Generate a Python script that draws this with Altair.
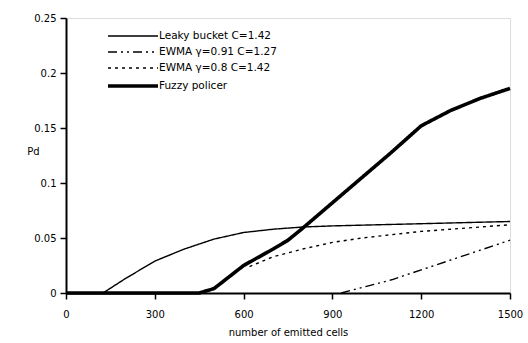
import altair as alt
import pandas as pd

series_names = ["Leaky bucket C=1.42", "EWMA γ=0.91 C=1.27", "EWMA γ=0.8 C=1.42", "Fuzzy policer"]

leaky_x = [0, 125, 200, 300, 400, 500, 600, 700, 800, 900, 1200, 1500]
leaky_y = [0, 0, 0.013, 0.029, 0.040, 0.049, 0.055, 0.058, 0.060, 0.061, 0.063, 0.065]

ewma091_x = [930, 1000, 1100, 1200, 1300, 1400, 1500]
ewma091_y = [0, 0.005, 0.012, 0.021, 0.030, 0.039, 0.048]

ewma08_x = [620, 700, 800, 900, 1000, 1100, 1200, 1300, 1400, 1500]
ewma08_y = [0.024, 0.033, 0.040, 0.046, 0.050, 0.053, 0.056, 0.058, 0.060, 0.062]

fuzzy_x = [0, 450, 500, 600, 700, 750, 800, 900, 1000, 1100, 1200, 1300, 1400, 1500]
fuzzy_y = [0, 0, 0.004, 0.025, 0.040, 0.048, 0.059, 0.082, 0.105, 0.128, 0.152, 0.166, 0.177, 0.186]

x_ticks = [0, 300, 600, 900, 1200, 1500]
y_ticks = [0, 0.05, 0.1, 0.15, 0.2, 0.25]

rows = []
for name, xs, ys in zip(series_names,
                        [leaky_x, ewma091_x, ewma08_x, fuzzy_x],
                        [leaky_y, ewma091_y, ewma08_y, fuzzy_y]):
    for i, (a, b) in enumerate(zip(xs, ys)):
        rows.append({"series": name, "cells": a, "pd": b, "order": i})
df = pd.DataFrame(rows)

FONT = "DejaVu Sans"

xscale = alt.Scale(domain=[0, 1500], nice=False, zero=False)
yscale = alt.Scale(domain=[0, 0.25], nice=False)

chart = alt.Chart(df).mark_line(strokeCap="butt", strokeJoin="round").encode(
    x=alt.X("cells:Q", scale=xscale,
            axis=alt.Axis(values=x_ticks, title="number of emitted cells",
                          ticks=True, tickSize=6, tickWidth=1.5, tickColor="black",
                          format="d",
                          labelPadding=10, labelFontSize=10, labelFont=FONT, labelColor="black",
                          titleFont=FONT, titleFontSize=10, titleFontWeight="normal",
                          titleColor="black", titlePadding=8,
                          domainColor="black", domainWidth=2, grid=False, labelFlush=False)),
    y=alt.Y("pd:Q", scale=yscale,
            axis=alt.Axis(values=y_ticks, title="Pd",
                          ticks=True, tickSize=6, tickWidth=1.5, tickColor="black",
                          labelPadding=4,
                          labelFontSize=10, labelFont=FONT, labelColor="black",
                          format="~g",
                          titleFont=FONT, titleFontSize=10, titleFontWeight="normal",
                          titleColor="black", titleAngle=0, titleAlign="center",
                          titleX=-33, titleY=138,
                          domainColor="black", domainWidth=2, grid=False)),
    color=alt.Color("series:N", scale=alt.Scale(domain=series_names,
                                                 range=["black"] * 4),
                    legend=alt.Legend(title=None, orient="none", legendX=60, legendY=12,
                                      padding=0,
                                      symbolType="M-5,0H5", symbolSize=100,
                                      labelFont=FONT, labelFontSize=10.5, labelColor="black",
                                      labelOffset=19, rowPadding=4, symbolStrokeColor="black")),
    strokeDash=alt.StrokeDash("series:N", scale=alt.Scale(domain=series_names,
                              range=[[1, 0], [9, 4, 2, 4, 2, 4], [3, 4], [1, 0]]),
                              legend=None),
    strokeWidth=alt.StrokeWidth("series:N", scale=alt.Scale(type="ordinal", domain=series_names,
                                range=[1.4, 1.4, 1.4, 3.6]), legend=None),
    order="order:Q",
    detail="series:N",
).properties(
    width=444, height=275,
    autosize=alt.AutoSizeParams(type="none"),
    padding={"left": 66, "top": 18, "right": 18, "bottom": 50},
).configure_view(stroke=None).configure(background="white")

chart.save("out.html", embed_options={"renderer": "svg", "actions": False})
